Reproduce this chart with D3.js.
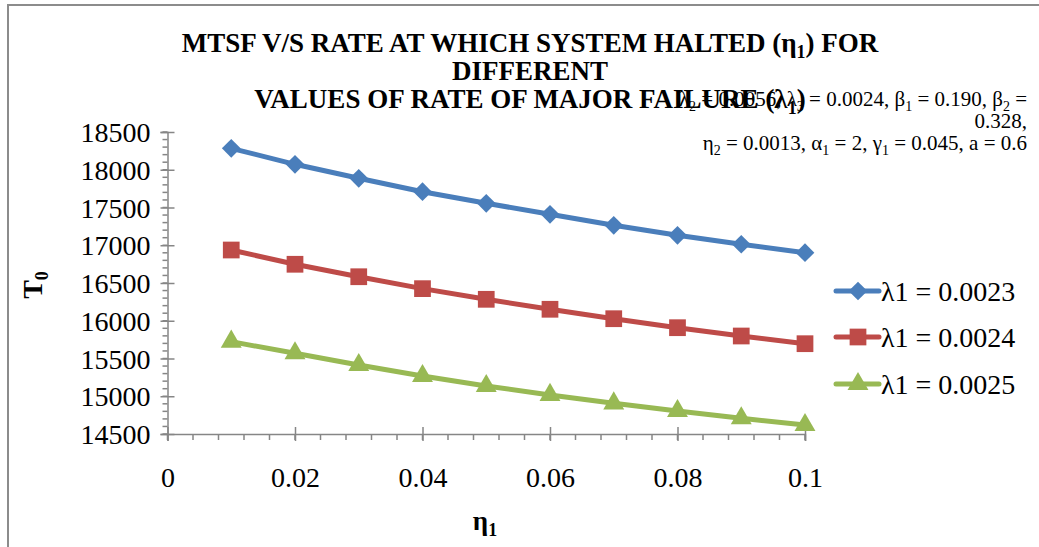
<!DOCTYPE html>
<html><head><meta charset="utf-8">
<script src="https://cdn.jsdelivr.net/npm/d3@7/dist/d3.min.js"></script>
<style>html,body{margin:0;padding:0;background:#fff;}svg{display:block;}</style>
</head><body>
<svg id="c" width="1039" height="547" font-family="Liberation Serif"></svg>
<script>
const etaValues = [0.01,0.02,0.03,0.04,0.05,0.06,0.07,0.08,0.09,0.1];
const seriesNames = ["λ1 = 0.0023","λ1 = 0.0024","λ1 = 0.0025"];
const lambda0023 = [18284,18072,17887,17709,17556,17410,17264,17132,17013,16901];
const lambda0024 = [16937,16748,16583,16425,16284,16152,16027,15908,15798,15696];
const lambda0025 = [15723,15569,15414,15268,15136,15017,14906,14805,14708,14619];
const yTicks = [14500,15000,15500,16000,16500,17000,17500,18000,18500];
const xTicks = [0,0.02,0.04,0.06,0.08,0.1];

const FONT = "Liberation Serif";
const colors = ["#4a7ebb","#be4b48","#98b954"];
const symbols = [d3.symbolSquare, d3.symbolSquare, d3.symbolTriangle];
const symSizes = [175, 280, 190];
const symXf = [" rotate(45)", "", ""];
const data = [lambda0023, lambda0024, lambda0025];

const svg = d3.select("#c");
// frame
svg.append("path").attr("d","M8,547 L8,5 L1039,5").attr("fill","none").attr("stroke","#8c8c8c").attr("stroke-width",2);

const x = d3.scaleLinear().domain([0,0.1]).range([167.5,805]);
const y = d3.scaleLinear().domain([14500,18500]).range([434,132]);
const axisColor = "#868686";

// minor ticks
const yMinor = d3.range(14500,18501,100);
svg.append("g").selectAll("line").data(yMinor).join("line")
  .attr("x1",x(0)-5).attr("x2",x(0)).attr("y1",d=>y(d)).attr("y2",d=>y(d))
  .attr("stroke",axisColor).attr("stroke-width",1.5);
const xMinor = d3.range(0,0.1001,0.004);
svg.append("g").selectAll("line").data(xMinor).join("line")
  .attr("x1",d=>x(d)).attr("x2",d=>x(d)).attr("y1",y(14500)).attr("y2",y(14500)+6)
  .attr("stroke",axisColor).attr("stroke-width",1.5);

// y axis
const gy = svg.append("g").attr("transform",`translate(${x(0)},0)`)
  .call(d3.axisLeft(y).tickValues(yTicks).tickSize(7).tickFormat(d3.format("d")));
gy.attr("font-family",FONT);
gy.select(".domain").attr("stroke",axisColor).attr("stroke-width",1.5);
gy.selectAll(".tick line").attr("stroke",axisColor).attr("stroke-width",1.5).attr("x1",7);
gy.selectAll(".tick text").attr("x",-17).attr("dy","0.34em").attr("font-size",28).attr("font-family",FONT).attr("fill","#000");

// x axis
const gx = svg.append("g").attr("transform",`translate(0,${y(14500)})`)
  .call(d3.axisBottom(x).tickValues(xTicks).tickSize(7).tickFormat(d=>d===0?"0":String(+d.toFixed(2))));
gx.attr("font-family",FONT);
gx.select(".domain").attr("stroke",axisColor).attr("stroke-width",1.5);
gx.selectAll(".tick line").attr("stroke",axisColor).attr("stroke-width",1.5).attr("y1",-7);
gx.selectAll(".tick text").attr("y",33).attr("dy","0.71em").attr("font-size",28).attr("font-family",FONT).attr("fill","#000");

// series
const line = d3.line().x((d,i)=>x(etaValues[i])).y(d=>y(d));
data.forEach((vals,k)=>{
  svg.append("path").datum(vals).attr("d",line).attr("fill","none")
    .attr("stroke",colors[k]).attr("stroke-width",5).attr("stroke-linejoin","round");
  svg.append("g").selectAll("path").data(vals).join("path")
    .attr("d",d3.symbol().type(symbols[k]).size(symSizes[k]))
    .attr("transform",(d,i)=>`translate(${x(etaValues[i])},${y(d)})`+symXf[k])
    .attr("fill",colors[k]);
});

// legend
const legY = [291,337,384];
seriesNames.forEach((name,k)=>{
  const g = svg.append("g").attr("transform",`translate(836,${legY[k]})`);
  g.append("line").attr("x1",0).attr("x2",43).attr("y1",0).attr("y2",0)
    .attr("stroke",colors[k]).attr("stroke-width",5).attr("stroke-linecap","round");
  g.append("path").attr("d",d3.symbol().type(symbols[k]).size(symSizes[k])())
    .attr("transform","translate(22,0)"+symXf[k]).attr("fill",colors[k]);
  g.append("text").attr("x",45).attr("y",0).attr("dy","0.34em").attr("font-size",28).attr("font-family",FONT).text(name);
});

// helper for text with subscripts: parts = strings or [subscript]
function rich(t, parts, subSize, shift){
  let pending = 0;
  parts.forEach(p=>{
    if(typeof p==="string"){
      const s = t.append("tspan").text(p);
      if(pending){ s.attr("dy",-pending); pending = 0; }
    } else {
      t.append("tspan").attr("font-size",subSize).attr("dy",shift).text(p[0]);
      pending = shift;
    }
  });
}

// title
const title = svg.append("text").attr("text-anchor","middle").attr("font-weight","bold").attr("font-size",27).attr("font-family",FONT);
const t1 = title.append("tspan").attr("x",530).attr("y",52);
rich(t1,["MTSF V/S RATE AT WHICH SYSTEM HALTED (η",["1"],") FOR"],18,6);
title.append("tspan").attr("x",530).attr("y",80).text("DIFFERENT");
const t3 = title.append("tspan").attr("x",530).attr("y",108);
rich(t3,["VALUES OF RATE OF MAJOR FAILURE (λ",["1"],")"],18,6);

// parameter note
const n1 = svg.append("text").attr("text-anchor","end").attr("font-size",21).attr("font-family",FONT).attr("x",1027).attr("y",106);
rich(n1,["λ",["2"]," = 0.0056, λ",["3"]," = 0.0024, β",["1"]," = 0.190, β",["2"]," ="],14,5);
svg.append("text").attr("text-anchor","end").attr("font-size",21).attr("font-family",FONT).attr("x",1027).attr("y",128).text("0.328,");
const n3 = svg.append("text").attr("text-anchor","end").attr("font-size",21).attr("font-family",FONT).attr("x",1027).attr("y",150);
rich(n3,["η",["2"]," = 0.0013, α",["1"]," = 2, γ",["1"]," = 0.045, a = 0.6"],14,5);

// axis titles
const yt = svg.append("text").attr("transform","translate(42,285) rotate(-90)").attr("text-anchor","middle").attr("font-weight","bold").attr("font-size",28).attr("font-family",FONT);
rich(yt,["T",["0"]],18,6);
const xt = svg.append("text").attr("x",485).attr("y",530).attr("text-anchor","middle").attr("font-weight","bold").attr("font-size",27).attr("font-family",FONT);
rich(xt,["η",["1"]],18,6);
</script>
</body></html>
